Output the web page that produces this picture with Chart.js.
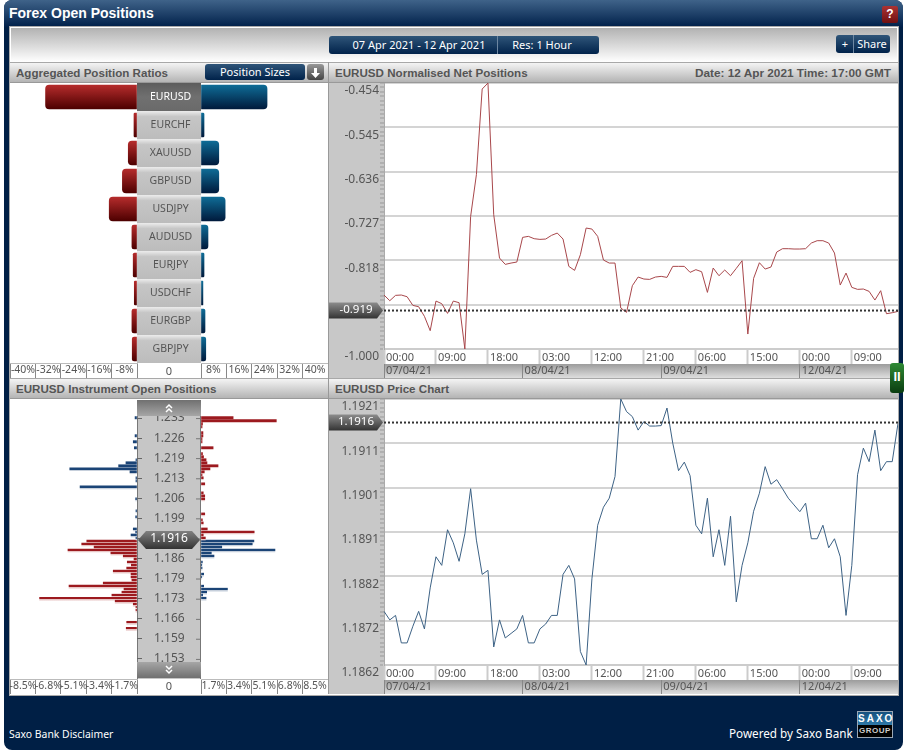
<!DOCTYPE html>
<html>
<head>
<meta charset="utf-8">
<title>Forex Open Positions</title>
<script src="https://cdn.jsdelivr.net/npm/chart.js@4"></script>
<style>
  html, body { margin: 0; padding: 0; background: #fff; overflow: hidden; }
  body { width: 905px; height: 753px; position: relative; font-family: "Noto Sans", sans-serif; }
  .abs, canvas { position: absolute; }
  .head { background: linear-gradient(#f4f4f4, #b4b4b4); border-top: 1px solid #a8a8a8; border-bottom: 1px solid #999; box-sizing: border-box; }
  .headText { position: absolute; font: bold 11.6px "Liberation Sans", sans-serif; color: #555; white-space: nowrap; }
  .btn { background: linear-gradient(#2f5579, #00224a); border-radius: 3px; color: #fff; font-size: 11px; text-align: center; white-space: nowrap; }
  .scroll { color: #fff; text-align: center; }
  .scroll svg { display: block; margin: 0 auto; }
</style>
</head>
<body>
<div class="abs" style="left:4px;top:0;width:899px;height:750px;background:#001f45;border-radius:8px"></div>
<div class="abs" style="left:4px;top:0;width:899px;height:27px;background:linear-gradient(#3f6389,#00204a);border-radius:8px 8px 0 0"></div>
<div class="abs" style="left:9px;top:5px;color:#fff;font:bold 14px 'Liberation Sans',sans-serif">Forex Open Positions</div>
<div class="abs" style="left:882px;top:6px;width:16px;height:17px;background:linear-gradient(#a33,#701010);border-radius:2px;color:#fff;font:bold 12px 'Liberation Sans';text-align:center;line-height:17px">?</div>

<div class="abs" style="left:10px;top:27px;width:888px;height:668px;background:#fff;box-shadow:0 0 0 1px #aaa"></div>
<div class="abs" style="left:11px;top:28px;width:886px;height:34px;background:linear-gradient(#b2b2b2,#fff)"></div>
<div class="abs btn" style="left:329px;top:36px;width:270px;height:18px;line-height:18px">
  <span class="abs" style="left:22px;width:136px">07 Apr 2021 - 12 Apr 2021</span>
  <span class="abs" style="left:168px;top:0;width:1px;height:18px;background:#6d87a2"></span>
  <span class="abs" style="left:170px;width:86px">Res: 1 Hour</span>
</div>
<div class="abs btn" style="left:836px;top:35px;width:54px;height:18px;line-height:17px">
  <span class="abs" style="left:3px;width:12px">+</span>
  <span class="abs" style="left:17px;top:0;width:1px;height:18px;background:#6d87a2"></span>
  <span class="abs" style="left:18px;width:36px">Share</span>
</div>

<div class="abs head" style="left:10px;top:62px;width:319px;height:21px"><span class="headText" style="left:6px;top:3px">Aggregated Position Ratios</span></div>
<div class="abs head" style="left:329px;top:62px;width:569px;height:21px">
  <span class="headText" style="left:6px;top:3px">EURUSD Normalised Net Positions</span>
  <span class="headText" style="right:7px;top:3px;font-size:11.8px">Date: 12 Apr 2021 Time: 17:00 GMT</span>
</div>
<div class="abs btn" style="left:205px;top:64px;width:100px;height:16px;line-height:15px">Position Sizes</div>
<div class="abs" style="left:307px;top:64px;width:17px;height:16px;background:linear-gradient(#999,#444);border-radius:3px">
  <svg width="17" height="16"><path d="M7 3h3v5h3l-4.500 5-4.500-5h3z" fill="#fff"/></svg>
</div>
<div class="abs head" style="left:10px;top:378px;width:319px;height:21px"><span class="headText" style="left:6px;top:3px">EURUSD Instrument Open Positions</span></div>
<div class="abs head" style="left:329px;top:378px;width:569px;height:21px"><span class="headText" style="left:6px;top:3px">EURUSD Price Chart</span></div>

<div class="abs" style="left:329px;top:83px;width:55px;height:295px;background:#c8c8c8"></div>
<div class="abs" style="left:329px;top:399px;width:55px;height:295px;background:#c8c8c8"></div>
<div class="abs" style="left:384px;top:364px;width:514px;height:14px;background:linear-gradient(#9c9c9c,#dedede)"></div>
<div class="abs" style="left:384px;top:680px;width:514px;height:14px;background:linear-gradient(#9c9c9c,#dedede)"></div>
<div class="abs" style="left:328px;top:62px;width:1px;height:632px;background:#999"></div>

<canvas id="ratiosLeft" width="191" height="295" style="left:10px;top:83px"></canvas>
<canvas id="ratiosRight" width="127" height="295" style="left:201px;top:83px"></canvas>
<canvas id="ladderLeft" width="191" height="294" style="left:10px;top:400px"></canvas>
<canvas id="ladderRight" width="127" height="294" style="left:201px;top:400px"></canvas>
<canvas id="netChart" width="569" height="295" style="left:329px;top:83px"></canvas>
<canvas id="priceChart" width="569" height="295" style="left:329px;top:399px"></canvas>

<div class="abs" style="left:137px;top:363px;width:64px;height:15px;font-size:11px;line-height:15px;color:#555;text-align:center">0</div>
<div class="abs" style="left:137px;top:678px;width:64px;height:16px;font-size:11px;line-height:16px;color:#555;text-align:center">0</div>
<div class="abs scroll" style="left:137px;top:400px;width:64px;height:16px;background:linear-gradient(#707070,#a6a6a6)">
  <svg width="10" height="16"><path d="M2 8l3-3 3 3M2 12l3-3 3 3" fill="none" stroke="#fff" stroke-width="1.500"/></svg>
</div>
<div class="abs scroll" style="left:137px;top:662px;width:64px;height:16px;background:linear-gradient(#a6a6a6,#707070)">
  <svg width="10" height="16"><path d="M2 4l3 3 3-3M2 8l3 3 3-3" fill="none" stroke="#fff" stroke-width="1.500"/></svg>
</div>

<div class="abs" style="left:890px;top:363px;width:14px;height:30px;background:linear-gradient(#2f8a35,#0a3d10);border-radius:3px;color:#fff;font:bold 13px 'Liberation Sans';line-height:28px;text-align:center">II</div>

<div class="abs" style="left:9px;top:727px;color:#fff;font-size:10.4px">Saxo Bank Disclaimer</div>
<div class="abs" style="left:729px;top:725px;color:#fff;font-size:11.7px">Powered by Saxo Bank</div>
<div class="abs" style="left:857px;top:711px;width:34px;height:25px;border:1px solid #9aa7b5;font:bold 10px 'Liberation Sans';text-align:center;color:#fff">
  <div style="height:13px;line-height:13px;background:linear-gradient(#15507e,#2f79a8);letter-spacing:2px">SAXO</div>
  <div style="height:12px;line-height:12px;background:#000;font-size:8px;letter-spacing:.5px;color:#ccc">GROUP</div>
</div>

<script>
const pairs = ['EURUSD', 'EURCHF', 'XAUUSD', 'GBPUSD', 'USDJPY', 'AUDUSD', 'EURJPY', 'USDCHF', 'EURGBP', 'GBPJPY'];
const shortRatios = [28.8, 0.95, 2.75, 4.6, 8.75, 1.6, 1.2, 0.85, 1.6, 1.5];
const longRatios = [20.8, 0.95, 5.6, 5.6, 7.6, 2.2, 0.95, 0.6, 1.26, 1.5];

const ladderTicks = [1.2330, 1.2263, 1.2197, 1.2130, 1.2063, 1.1997, 1.1930, 1.1863, 1.1797, 1.1730, 1.1663, 1.1597, 1.1530];
const ladderTickLabels = ['1.233', '1.226', '1.219', '1.213', '1.206', '1.199', '', '1.186', '1.179', '1.173', '1.166', '1.159', '1.153'];

const leftBluePrices = [1.233, 1.227, 1.225, 1.223, 1.219, 1.218, 1.217, 1.216, 1.215, 1.213, 1.212, 1.210, 1.206, 1.202, 1.200, 1.196, 1.195, 1.194, 1.193];
const leftBlueValues = [.13, .13, .25, .18, .07, .74, 1.23, 4.50, .47, .07, .07, 3.81, .09, .07, .09, .25, .09, .40, .07];
const leftRedPrices = [1.192, 1.191, 1.190, 1.189, 1.188, 1.187, 1.186, 1.185, 1.184, 1.183, 1.182, 1.181, 1.180, 1.179, 1.178, 1.177, 1.176, 1.175, 1.174, 1.173, 1.172, 1.171, 1.170, 1.169, 1.165, 1.163];
const leftRedValues = [3.36, 3.70, 2.87, 4.62, 1.75, .92, .20, .65, .38, .69, 1.59, .40, .40, .34, 2.26, 4.55, .87, 1.01, 1.68, 6.52, 1.46, .25, .07, .07, .69, .72];
const rightRedPrices = [1.233, 1.232, 1.231, 1.230, 1.228, 1.227, 1.226, 1.225, 1.223, 1.221, 1.220, 1.219, 1.218, 1.217, 1.216, 1.215, 1.214, 1.213, 1.211, 1.208, 1.207, 1.206, 1.201, 1.199, 1.198, 1.196, 1.195, 1.194, 1.193];
const rightRedValues = [2.15, 5.04, .10, .07, .13, .13, .07, .07, .81, .10, .17, .34, .40, 1.14, .60, .22, .07, .15, .25, .15, .25, .25, .25, .09, .15, .42, 3.56, .15, .29];
const rightBluePrices = [1.192, 1.191, 1.190, 1.189, 1.188, 1.187, 1.185, 1.184, 1.183, 1.181, 1.180, 1.177, 1.176, 1.175, 1.174, 1.173];
const rightBlueValues = [3.54, 3.43, 1.39, 4.95, .69, .87, .09, .05, .07, .18, .05, .18, 1.77, .38, .11, .34];

const netValues = [-.8892, -.9009, -.8899, -.8892, -.8927, -.9105, -.9132, -.9330, -.9624, -.9016, -.9070, -.9269, -.9016, -.9050, -1.0000, -.7278, -.6422, -.4664, -.4541, -.7244,
  -.8133, -.8263, -.8236, -.8215, -.7709, -.7688, -.7736, -.7750, -.7743, -.7668, -.7620, -.7743, -.8304, -.8386, -.8065, -.7517, -.7538, -.7688, -.8174, -.8236,
  -.8236, -.9159, -.9248, -.8701, -.8523, -.8564, -.8571, -.8523, -.8509, -.8530, -.8304, -.8304, -.8304, -.8427, -.8372, -.8414, -.8838, -.8338, -.8496, -.8379,
  -.8496, -.8345, -.8188, -.9693, -.8550, -.8229, -.8359, -.8318, -.8010, -.7941, -.7941, -.7948, -.7948, -.7941, -.7825, -.7777, -.7777, -.7825, -.8030, -.8687,
  -.8441, -.8735, -.8776, -.8769, -.8817, -.8995, -.8803, -.9276, -.9255, -.9228];
const priceValues = [1.18739, 1.18720, 1.18730, 1.18669, 1.18669, 1.18706, 1.18739, 1.18700, 1.18791, 1.18860, 1.18841, 1.18920, 1.18891, 1.18850, 1.18911, 1.19011, 1.18897, 1.18821, 1.18830, 1.18660,
  1.18720, 1.18680, 1.18690, 1.18700, 1.18730, 1.18669, 1.18669, 1.18700, 1.18711, 1.18730, 1.18730, 1.18821, 1.18841, 1.18811, 1.18650, 1.18620, 1.18811, 1.18930, 1.18970, 1.18990,
  1.19038, 1.19210, 1.19182, 1.19171, 1.19141, 1.19160, 1.19150, 1.19150, 1.19151, 1.19190, 1.19112, 1.19051, 1.19070, 1.19040, 1.18930, 1.18911, 1.18990, 1.18860, 1.18920, 1.18841,
  1.18950, 1.18760, 1.18841, 1.18891, 1.18961, 1.19001, 1.19060, 1.19021, 1.19031, 1.19011, 1.18990, 1.18975, 1.18960, 1.18979, 1.18900, 1.18900, 1.18930, 1.18880, 1.18900, 1.18860,
  1.18730, 1.18841, 1.19042, 1.19101, 1.19071, 1.19141, 1.19051, 1.19071, 1.19071, 1.19156];

const sessionDays = ['07/04/21', '08/04/21', '09/04/21', '12/04/21'];
const sessionHours = [24, 24, 24, 18];
const netTickLabels = ['-1.000', '', '-0.818', '-0.727', '-0.636', '-0.545', '-0.454'];
const priceTickLabels = ['1.1862', '1.1872', '1.1882', '1.1891', '1.1901', '1.1911', '1.1921'];

const timeLabels = [];
sessionDays.forEach((day, d) => {
  for (let h = 0; h < sessionHours[d]; h++) timeLabels.push(day + ' ' + String(h).padStart(2, '0') + ':00');
});

const axisFont = { family: 'Noto Sans', size: 11 };
const cellFont = { family: 'Noto Sans', size: 10.5 };
const textGrey = '#555';
Chart.defaults.animation = false;
Chart.defaults.responsive = false;
Chart.defaults.plugins.legend.display = false;
Chart.defaults.plugins.tooltip.enabled = false;

// force the box size of an axis so the plots line up with the panels
function boxSize(w, h) {
  return s => {
    if (w !== null) s.width = w;
    if (h !== null) s.height = h;
    s.paddingLeft = s.paddingRight = s.paddingTop = s.paddingBottom = 0;
  };
}

function vGrad(chart, y0, y1, stops) {
  const g = chart.ctx.createLinearGradient(0, y0, 0, y1);
  stops.forEach(st => g.addColorStop(st[0], st[1]));
  return g;
}

function ratioBarColor(top, bottom) {
  return c => {
    if (!c.chart.chartArea) return top;
    const y = c.chart.scales.y.getPixelForValue(c.dataIndex);
    return vGrad(c.chart, y - 12, y + 12, [[0, top], [1, bottom]]);
  };
}

function ladderBarColor(dark, pale) {
  return c => {
    if (!c.chart.chartArea || !c.raw) return dark;
    const y = c.chart.scales.y.getPixelForValue(c.raw.y);
    return vGrad(c.chart, y - 1.5, y + 1.5, [[0, dark], [.67, dark], [.67, pale], [1, pale]]);
  };
}

function xBottomAxis(max, step, fmt, reverse, offset) {
  return {
    type: 'linear', min: 0, max: max, reverse: reverse, position: 'bottom',
    afterFit: boxSize(null, 15),
    border: { color: '#bbb' },
    grid: { drawOnChartArea: false, tickLength: 15, tickColor: '#888' },
    ticks: { stepSize: step, autoSkip: false, maxRotation: 0, padding: -14, labelOffset: offset, font: cellFont, color: textGrey, callback: fmt }
  };
}

// grey label buttons behind the pair names
const pairButtons = {
  id: 'pairButtons',
  beforeDraw(chart) {
    const { ctx, scales: { y } } = chart;
    ctx.save();
    pairs.forEach((p, i) => {
      const cy = y.getPixelForValue(i);
      const stops = i === 0 ? [[0, '#5c5c5c'], [.5, '#707070'], [1, '#6a6a6a']] : [[0, '#ececec'], [.2, '#c6c6c6'], [1, '#bcbcbc']];
      ctx.fillStyle = vGrad(chart, cy - 14, cy + 14, stops);
      ctx.fillRect(y.left, cy - 14, y.width, 28);
    });
    ctx.restore();
  }
};

// price ladder column with its side ticks and the current price tag
const ladderColumn = {
  id: 'ladderColumn',
  beforeDraw(chart) {
    const { ctx, scales: { y } } = chart;
    ctx.save();
    ctx.fillStyle = '#c6c6c6';
    ctx.fillRect(y.left, y.top, y.width, y.bottom - y.top);
    ctx.fillStyle = '#777';
    ctx.fillRect(y.left, y.top, 1, y.bottom - y.top);
    ctx.fillRect(y.right - 1, y.top, 1, y.bottom - y.top);
    y.ticks.forEach(t => ctx.fillRect(y.right - 5, y.getPixelForValue(t.value), 5, 1));
    ctx.restore();
  },
  afterDraw(chart) {
    const { ctx, scales: { y } } = chart;
    const cy = y.getPixelForValue(ladderTicks[6]) + 1.5;
    ctx.save();
    ctx.fillStyle = vGrad(chart, cy - 9, cy + 9, [[0, '#808080'], [1, '#333']]);
    ctx.beginPath();
    ctx.moveTo(y.left + 1, cy);
    ctx.lineTo(y.left + 9, cy - 9);
    ctx.lineTo(y.right - 9, cy - 9);
    ctx.lineTo(y.right - 1, cy);
    ctx.lineTo(y.right - 9, cy + 9);
    ctx.lineTo(y.left + 9, cy + 9);
    ctx.closePath();
    ctx.fill();
    ctx.fillStyle = '#fff';
    ctx.font = '12px "Noto Sans"';
    ctx.textAlign = 'center';
    ctx.textBaseline = 'middle';
    ctx.fillText('1.1916', (y.left + y.right) / 2, cy - 1);
    ctx.restore();
  }
};

// dotted line at the latest value, with the tag on the axis
function latestValue(value, text) {
  return {
    id: 'latestValue',
    afterDraw(chart) {
      const { ctx, chartArea: a, scales: { y } } = chart;
      const py = y.getPixelForValue(value) + 1;
      ctx.save();
      ctx.strokeStyle = '#333';
      ctx.lineWidth = 2;
      ctx.setLineDash([2, 2]);
      ctx.beginPath();
      ctx.moveTo(a.left, py);
      ctx.lineTo(a.right, py);
      ctx.stroke();
      ctx.setLineDash([]);
      ctx.fillStyle = vGrad(chart, py - 8, py + 8, [[0, '#8c8c8c'], [1, '#333']]);
      ctx.beginPath();
      ctx.moveTo(0, py - 8);
      ctx.lineTo(a.left - 7, py - 8);
      ctx.lineTo(a.left - 1, py);
      ctx.lineTo(a.left - 7, py + 8);
      ctx.lineTo(0, py + 8);
      ctx.closePath();
      ctx.fill();
      ctx.fillStyle = '#fff';
      ctx.font = '11.500px "Noto Sans"';
      ctx.textAlign = 'center';
      ctx.textBaseline = 'middle';
      ctx.fillText(text, 27, py - 1);
      ctx.restore();
    }
  };
}

// aggregated position ratios
new Chart(document.getElementById('ratiosLeft'), {
  type: 'bar',
  plugins: [pairButtons],
  data: {
    labels: pairs,
    datasets: [{
      data: shortRatios, barThickness: 24,
      backgroundColor: ratioBarColor('#b52c2c', '#4d0000'),
      borderRadius: { topLeft: 4, bottomLeft: 4, topRight: 0, bottomRight: 0 }, borderSkipped: false
    }]
  },
  options: {
    indexAxis: 'y',
    scales: {
      x: xBottomAxis(40, 8, v => v ? '-' + v + '%' : '', true, 13),
      y: {
        position: 'right', afterFit: boxSize(64, null),
        grid: { display: false }, border: { display: false },
        ticks: { crossAlign: 'center', padding: 4, autoSkip: false, font: cellFont, color: c => c.index === 0 ? '#fff' : textGrey }
      }
    }
  }
});

new Chart(document.getElementById('ratiosRight'), {
  type: 'bar',
  data: {
    labels: pairs,
    datasets: [{
      data: longRatios, barThickness: 24,
      backgroundColor: ratioBarColor('#0f6c96', '#001a3c'),
      borderRadius: { topRight: 4, bottomRight: 4, topLeft: 0, bottomLeft: 0 }, borderSkipped: false
    }]
  },
  options: {
    indexAxis: 'y',
    scales: {
      x: xBottomAxis(40, 8, v => v ? v + '%' : '', false, -13),
      y: { display: false }
    }
  }
});

// instrument open positions
function ladderDataset(prices, values, dark, pale) {
  return {
    data: prices.map((p, i) => ({ x: values[i], y: p })),
    barThickness: 3, grouped: false,
    backgroundColor: ladderBarColor(dark, pale)
  };
}

const ladderPriceTop = 1.239;
const ladderPriceBottom = 1.14633;

new Chart(document.getElementById('ladderLeft'), {
  type: 'bar',
  plugins: [ladderColumn],
  data: {
    datasets: [
      ladderDataset(leftBluePrices, leftBlueValues, '#1b4476', '#c6cfdb'),
      ladderDataset(leftRedPrices, leftRedValues, '#9c1a1f', '#e8c6c6')
    ]
  },
  options: {
    indexAxis: 'y',
    scales: {
      x: xBottomAxis(8.5, 1.7, v => v ? '-' + v.toFixed(1) + '%' : '', true, 13),
      y: {
        type: 'linear', position: 'right', min: ladderPriceBottom, max: ladderPriceTop, offset: false,
        afterFit: boxSize(64, null),
        afterBuildTicks: s => { s.ticks = ladderTicks.map(v => ({ value: v })); },
        grid: { offset: false, drawOnChartArea: false, tickLength: 5, tickColor: '#666' }, border: { display: false },
        ticks: { crossAlign: 'center', padding: 12, autoSkip: false, font: { family: 'Noto Sans', size: 12 }, color: textGrey, callback: (v, i) => ladderTickLabels[i] }
      }
    }
  }
});

new Chart(document.getElementById('ladderRight'), {
  type: 'bar',
  data: {
    datasets: [
      ladderDataset(rightRedPrices, rightRedValues, '#9c1a1f', '#e8c6c6'),
      ladderDataset(rightBluePrices, rightBlueValues, '#1b4476', '#c6cfdb')
    ]
  },
  options: {
    indexAxis: 'y',
    scales: {
      x: xBottomAxis(8.5, 1.7, v => v ? v.toFixed(1) + '%' : '', false, -13),
      y: { type: 'linear', display: false, offset: false, min: ladderPriceBottom, max: ladderPriceTop }
    }
  }
});

// the two hourly line charts
function hourlyChart(id, values, lineColor, yMin, yMax, tickLabels, latest, latestText) {
  const minorSteps = 60;
  new Chart(document.getElementById(id), {
    type: 'line',
    plugins: [latestValue(latest, latestText)],
    data: {
      labels: timeLabels,
      datasets: [{ data: values, borderColor: lineColor, borderWidth: 1, pointRadius: 0, tension: 0 }]
    },
    options: {
      scales: {
        x: {
          afterFit: boxSize(null, 15),
          border: { color: '#ccc', width: 2 },
          grid: { drawOnChartArea: false, tickLength: 15, tickWidth: 2, tickColor: c => c.index % 9 === 0 ? '#ccc' : 'transparent' },
          ticks: {
            autoSkip: false, maxRotation: 0, align: 'start', padding: -13, labelOffset: 2, font: axisFont, color: textGrey,
            callback(v, i) { return i % 9 === 0 ? timeLabels[i].slice(9) : ''; }
          }
        },
        xDate: {
          type: 'category', position: 'bottom',
          afterFit: boxSize(null, 14),
          border: { display: false },
          grid: { drawOnChartArea: false, tickLength: 14, tickWidth: 1, tickColor: c => timeLabels[c.index] && timeLabels[c.index].endsWith(' 00:00') ? '#888' : 'transparent' },
          ticks: {
            autoSkip: false, maxRotation: 0, align: 'start', padding: -14, labelOffset: 2, font: axisFont, color: '#555',
            callback(v, i) { return timeLabels[i].endsWith(' 00:00') ? timeLabels[i].slice(0, 8) : ''; }
          }
        },
        y: {
          min: yMin, max: yMax,
          afterFit: boxSize(55, null),
          afterBuildTicks: s => {
            const t = [];
            for (let i = 0; i <= minorSteps; i++) t.push({ value: yMin + (yMax - yMin) * i / minorSteps });
            s.ticks = t;
          },
          border: { color: '#aaa' },
          grid: {
            tickLength: 4, lineWidth: 2, tickWidth: 1, tickColor: '#999',
            color: c => c.index % 10 === 0 ? '#d4d4d4' : 'transparent'
          },
          ticks: {
            autoSkip: false, padding: 1, labelOffset: 8, font: { family: 'Noto Sans', size: 12 }, color: textGrey,
            callback(v, i) { return i % 10 === 0 ? tickLabels[i / 10] : ''; }
          }
        }
      }
    }
  });
}

hourlyChart('netChart', netValues, '#a8474b', -1.0, -0.454, netTickLabels, -0.919, '-0.919');
hourlyChart('priceChart', priceValues, '#3d6285', 1.1862, 1.1921, priceTickLabels, 1.1916, '1.1916');
</script>
</body>
</html>
